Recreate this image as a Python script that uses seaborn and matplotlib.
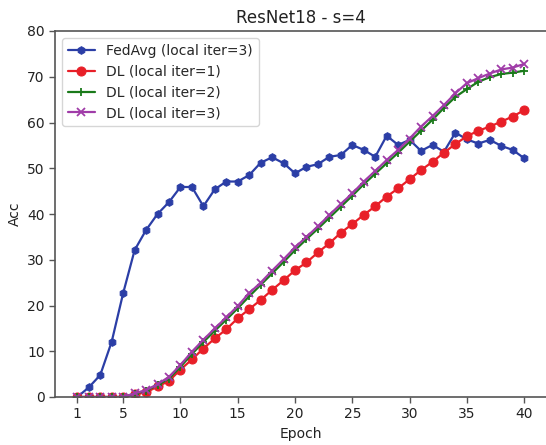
import matplotlib
matplotlib.use("Agg")
import matplotlib.pyplot as plt
import seaborn as sns

epochs = list(range(1, 41))

fedavg_iter3 = [0, 2.1, 4.8, 12.1, 22.7, 32.1, 36.5, 40.0, 42.6, 45.9,
                45.9, 41.7, 45.4, 47.1, 47.1, 48.5, 51.2, 52.4, 51.1, 48.9,
                50.3, 50.9, 52.5, 52.9, 55.1, 54.0, 52.5, 57.1, 55.1, 56.2,
                53.8, 55.1, 53.6, 57.8, 56.3, 55.4, 56.2, 54.9, 54.0, 52.2]

dl_iter1 = [0, 0, 0, 0, 0, 0.6, 1.0, 2.3, 3.5, 6.0,
            8.2, 10.6, 12.8, 14.8, 17.2, 19.2, 21.2, 23.4, 25.5, 27.7,
            29.4, 31.6, 33.6, 35.9, 37.8, 39.8, 41.7, 43.8, 45.6, 47.6,
            49.6, 51.4, 53.4, 55.3, 57.0, 58.2, 59.1, 60.2, 61.3, 62.7]

dl_iter2 = [0, 0, 0, 0, 0, 0.7, 1.4, 2.6, 4.0, 6.6,
            9.4, 12.0, 14.5, 16.9, 19.4, 22.0, 24.5, 27.0, 29.5, 32.1,
            34.5, 36.8, 39.2, 41.6, 44.0, 46.5, 48.8, 51.1, 53.4, 55.8,
            58.2, 60.6, 63.2, 65.6, 67.3, 68.9, 69.9, 70.6, 70.9, 71.3]

dl_iter3 = [0, 0, 0, 0, 0, 0.8, 1.5, 2.8, 4.4, 7.0,
            9.9, 12.5, 15.0, 17.4, 19.9, 22.7, 25.0, 27.6, 30.1, 32.7,
            35.0, 37.3, 39.8, 42.2, 44.5, 47.1, 49.4, 51.8, 54.0, 56.5,
            59.1, 61.4, 63.8, 66.4, 68.6, 69.7, 70.7, 71.6, 72.0, 72.8]

labels = ["FedAvg (local iter=3)", "DL (local iter=1)",
          "DL (local iter=2)", "DL (local iter=3)"]
xticks = [1, 5, 10, 15, 20, 25, 30, 35, 40]
yticks = [0, 10, 20, 30, 40, 50, 60, 70, 80]

sns.set_theme(style="ticks")
plt.rcParams["font.family"] = ["DejaVu Sans"]
plt.rcParams.update({
    "axes.edgecolor": "#555555",
    "axes.linewidth": 1.2,
    "xtick.color": "#555555",
    "ytick.color": "#555555",
    "xtick.labelcolor": "#222222",
    "ytick.labelcolor": "#222222",
})

fig = plt.figure(figsize=(5.46, 4.45), dpi=100)
ax = fig.add_axes([55 / 546, 48 / 445, 491.5 / 546, 366 / 445])

series = [
    (fedavg_iter3, labels[0], "#2b3ea6", "h", 5.5, {}),
    (dl_iter1, labels[1], "#e81f28", "o", 6.5, {}),
    (dl_iter2, labels[2], "#1a7a1a", "+", 6, {"markeredgewidth": 1.3}),
    (dl_iter3, labels[3], "#a03ca8", "x", 6, {"markeredgewidth": 1.3}),
]
for vals, lab, col, mk, ms, extra in series:
    sns.lineplot(x=epochs, y=vals, ax=ax, label=lab, color=col,
                 marker=mk, markersize=ms, linewidth=1.6,
                 markeredgecolor=col, **extra)

ax.set_xlim(-0.95, 41.95)
ax.set_ylim(0, 80)
ax.set_xticks(xticks)
ax.set_yticks(yticks)
ax.spines["right"].set_visible(False)
ax.tick_params(labelsize=10, length=4, width=1)
ax.set_xlabel("Epoch", fontsize=10, color="#222222")
ax.set_ylabel("Acc", fontsize=10, color="#222222")
ax.set_title("ResNet18 - s=4", fontsize=12, color="#222222")
leg = ax.legend(loc="upper left", fontsize=10, frameon=True,
                borderaxespad=0.5, handlelength=2.0)
leg.get_frame().set_edgecolor("#cccccc")

fig.savefig("out.png", dpi=100)
